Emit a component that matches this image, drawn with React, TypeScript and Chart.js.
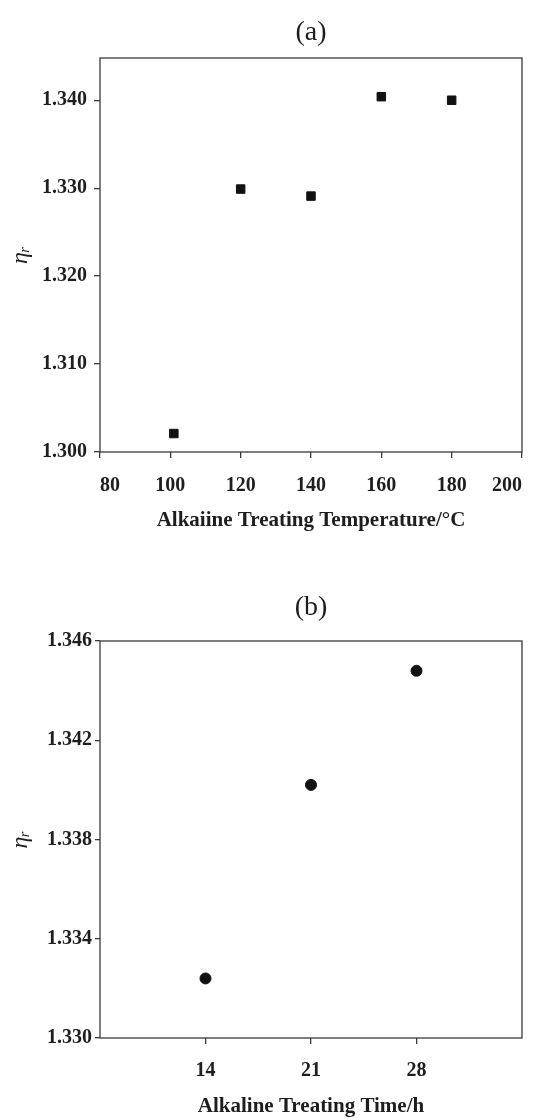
import React, { useEffect, useRef } from "react";
import { Chart, registerables } from "chart.js";

Chart.register(...registerables);

// ---- Data (a) ----
const tempLabelsA = [80, 100, 120, 140, 160, 180, 200];
const tempC = [101, 120, 140, 160, 180];
const etaA = [1.3021, 1.3299, 1.3291, 1.3404, 1.34];
const yTicksA = [1.3, 1.31, 1.32, 1.33, 1.34];

// ---- Data (b) ----
const timeTicksB = [14, 21, 28];
const timeH = [14, 21, 28];
const etaB = [1.3324, 1.3402, 1.3448];
const yTicksB = [1.33, 1.334, 1.338, 1.342, 1.346];

const SERIF = "'Liberation Serif', 'Times New Roman', serif";
const INK = "#1e1e1e";

const frame = {
  id: "frame",
  afterDraw(chart: any) {
    const { ctx, chartArea } = chart;
    ctx.save();
    ctx.strokeStyle = "#3a3a3a";
    ctx.lineWidth = 1.3;
    ctx.strokeRect(chartArea.left, chartArea.top, chartArea.right - chartArea.left, chartArea.bottom - chartArea.top);
    ctx.restore();
  },
};

const panelTitle = {
  id: "panelTitle",
  afterDraw(chart: any, _args: any, opts: any) {
    const { ctx, chartArea } = chart;
    ctx.save();
    ctx.fillStyle = INK;
    ctx.font = `28px ${SERIF}`;
    ctx.textAlign = "center";
    ctx.textBaseline = "middle";
    ctx.fillText(opts.text, (chartArea.left + chartArea.right) / 2, chartArea.top - opts.gap);
    ctx.restore();
  },
};

function makeConfig(p: any) {
  const h = p.canvasH;
  return {
    type: "scatter",
    data: {
      datasets: [
        {
          data: p.xs.map((x: number, i: number) => ({ x, y: p.ys[i] })),
          pointStyle: p.pointStyle,
          pointRadius: p.radius,
          backgroundColor: "#111",
          borderColor: "#111",
          borderWidth: 1,
        },
      ],
    },
    options: {
      responsive: false,
      animation: false,
      layout: { padding: { top: p.plotTop, right: p.padRight, left: 0, bottom: 0 } },
      plugins: {
        legend: { display: false },
        tooltip: { enabled: false },
        panelTitle: { text: p.title, gap: p.titleGap },
      },
      scales: {
        x: {
          type: "linear",
          min: p.xMin,
          max: p.xMax,
          afterBuildTicks: (s: any) => {
            s.ticks = p.xTicks.map((v: number) => ({ value: v }));
          },
          afterFit: (s: any) => {
            s.height = h - p.plotBottom;
            s.paddingLeft = 0;
            s.paddingRight = 0;
          },
          border: { display: false },
          grid: { drawOnChartArea: false, drawTicks: true, tickLength: 6, color: "#3a3a3a", lineWidth: 1.3 },
          ticks: {
            color: INK,
            padding: p.xTickPad,
            maxRotation: 0,
            align: p.xAlign,
            font: { family: SERIF, size: 20, weight: "bold" },
            callback: (v: any) => String(v),
          },
          title: {
            display: true,
            text: p.xTitle,
            color: INK,
            font: { family: SERIF, size: 21, weight: "bold" },
            padding: { top: 0, bottom: p.xTitlePad },
          },
        },
        y: {
          type: "linear",
          min: p.yMin,
          max: p.yMax,
          afterBuildTicks: (s: any) => {
            s.ticks = p.yTicks.map((v: number) => ({ value: v }));
          },
          afterFit: (s: any) => {
            s.width = 100;
            s.paddingTop = 0;
            s.paddingBottom = 0;
          },
          border: { display: false },
          grid: { drawOnChartArea: false, drawTicks: true, tickLength: p.yTickLen, color: "#3a3a3a", lineWidth: 1.3 },
          ticks: {
            color: INK,
            padding: p.yTickPad,
            font: { family: SERIF, size: 20, weight: "bold" },
            callback: (v: any) => Number(v).toFixed(3),
          },
          title: {
            display: true,
            text: "ηᵣ",
            color: INK,
            font: { family: SERIF, size: 24, style: "italic" },
            padding: { top: 6, bottom: 0 },
          },
        },
      },
    },
    plugins: [frame, panelTitle],
  };
}

function Panel(props: any) {
  const ref = useRef<HTMLCanvasElement>(null);
  useEffect(() => {
    const chart = new Chart(ref.current as any, makeConfig(props.cfg) as any);
    return () => chart.destroy();
  }, []);
  return (
    <canvas
      ref={ref}
      width={541}
      height={props.cfg.canvasH}
      style={{ position: "absolute", left: 0, top: props.top, width: 541, height: props.cfg.canvasH }}
    />
  );
}

const cfgA = {
  canvasH: 560,
  plotTop: 58,
  plotBottom: 452,
  padRight: 19,
  title: "(a)",
  titleGap: 25,
  xs: tempC,
  ys: etaA,
  xMin: 80,
  xMax: 200,
  xTicks: tempLabelsA,
  xAlign: "inner",
  yMin: 1.3,
  yMax: 1.3448,
  yTicks: yTicksA,
  pointStyle: "rect",
  radius: 6,
  xTitle: "Alkaiine Treating Temperature/°C",
  xTickPad: 16,
  xTitlePad: 27,
  yTickLen: 6,
  yTickPad: 7,
};

const cfgB = {
  canvasH: 559,
  plotTop: 81,
  plotBottom: 478,
  padRight: 19,
  title: "(b)",
  titleGap: 33,
  xs: timeH,
  ys: etaB,
  xMin: 7,
  xMax: 35,
  xTicks: timeTicksB,
  xAlign: "center",
  yMin: 1.33,
  yMax: 1.346,
  yTicks: yTicksB,
  pointStyle: "circle",
  radius: 5.5,
  xTitle: "Alkaline Treating Time/h",
  xTickPad: 15,
  xTitlePad: 0,
  yTickLen: 5,
  yTickPad: 3,
};

export default function App() {
  return (
    <div style={{ position: "absolute", left: 0, top: 0, width: 541, height: 1119, background: "#fff" }}>
      <Panel cfg={cfgA} top={0} />
      <Panel cfg={cfgB} top={560} />
    </div>
  );
}
